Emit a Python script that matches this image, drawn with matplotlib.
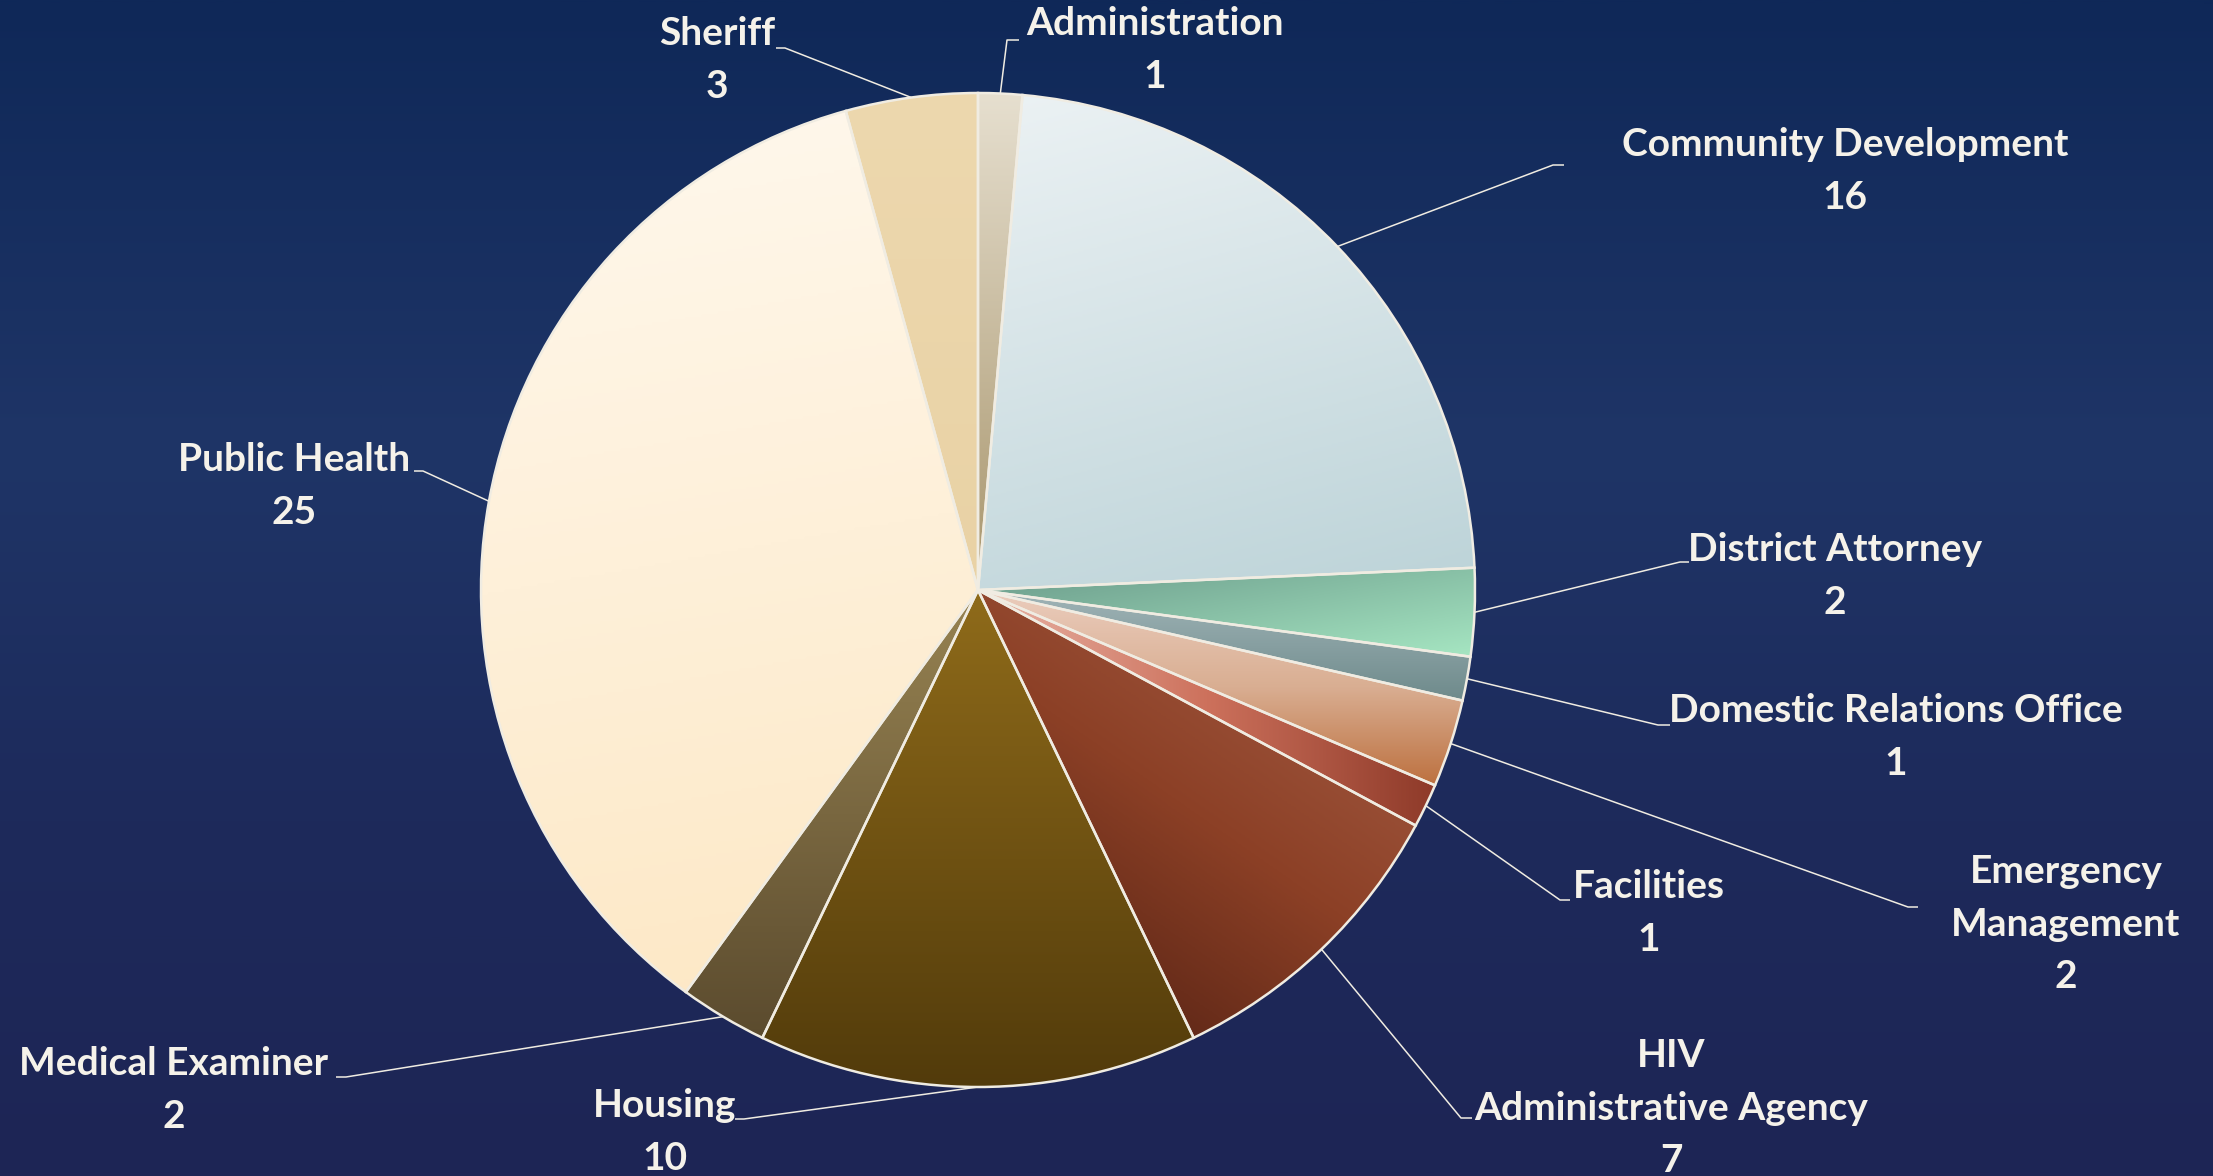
import numpy as np
import matplotlib
matplotlib.use('Agg')
import matplotlib.pyplot as plt
from matplotlib.colors import LinearSegmentedColormap

# data
departments = ['Administration', 'Community Development', 'District Attorney',
               'Domestic Relations Office', 'Emergency Management', 'Facilities',
               'HIV Administrative Agency', 'Housing', 'Medical Examiner',
               'Public Health', 'Sheriff']
counts = [1, 16, 2, 1, 2, 1, 7, 10, 2, 25, 3]
label_names = ['Administration', 'Community Development', 'District Attorney',
               'Domestic Relations Office', 'Emergency\nManagement', 'Facilities',
               'HIV\nAdministrative Agency', 'Housing', 'Medical Examiner',
               'Public Health', 'Sheriff']

# gradient fills: colour stops + direction (deg, screen coords, 90 = top->bottom)
fills = [
    (['#e6dfcf', '#a8956c'], 90),
    (['#ecf2f4', '#bcd3d8'], 75),
    (['#6a9a8a', '#a6e6c2'], 80),
    (['#a0b4b7', '#6e8a8b'], 90),
    (['#ebcdbd', '#d9ae92', '#bd7140'], 90),
    (['#e8b4a6', '#cd715c', '#8e3a29'], 0),
    (['#aa634c', '#8c4026', '#4a1c10'], 125),
    (['#8f6b1a', '#523b0b'], 90),
    (['#978352', '#5b4b2e'], 90),
    (['#fff8ed', '#fde8c5'], 80),
    (['#edd8ae', '#e9d2a5'], 90),
]

# layout (pixels, y from top)
W, H = 2213, 1176
cx, cy, R = 978, 590, 497
label_pos = [(1155, 50), (1845, 171), (1835, 576), (1896, 737), (2066, 924),
             (1649, 913), (1671, 1108), (665, 1132), (174, 1090), (294, 486),
             (717, 60)]
elbows = [((1007, 40), (1019, 40)), ((1553, 165), (1564, 165)),
          ((1680, 562), (1689, 562)), ((1658, 725), (1670, 725)),
          ((1908, 907), (1918, 907)), ((1560, 900), (1570, 900)),
          ((1461, 1118), (1472, 1118)), ((744, 1119), (735, 1119)),
          ((346, 1077), (336, 1077)), ((423, 471), (414, 471)),
          ((785, 48), (776, 48))]

line_col = '#f0ece2'
text_col = '#f5f2ea'

fig = plt.figure(figsize=(W / 100, H / 100), dpi=100)
ax = fig.add_axes([0, 0, 1, 1])
ax.axis('off')

# background
bg = LinearSegmentedColormap.from_list('bg', [(0, '#0f2858'), (0.38, '#1f3567'),
                                              (0.7, '#1d2a5b'), (1, '#1e2555')])
grad = np.linspace(0, 1, 400).reshape(-1, 1)
ax.imshow(bg(grad), extent=(0, W, 0, H), origin='upper', aspect='auto', zorder=0)

wedges, _ = ax.pie(counts, startangle=90, counterclock=False,
                   center=(cx, H - cy), radius=R,
                   wedgeprops=dict(edgecolor=line_col, linewidth=1.8))

for w, (stops, ang) in zip(wedges, fills):
    th = np.radians(np.linspace(w.theta1, w.theta2, 60))
    px = np.concatenate([[cx], cx + R * np.cos(th)])
    py = np.concatenate([[H - cy], H - cy + R * np.sin(th)])
    x0, x1, y0, y1 = px.min(), px.max(), py.min(), py.max()
    dx, dy = np.cos(np.radians(ang)), -np.sin(np.radians(ang))
    X, Y = np.meshgrid(np.linspace(x0, x1, 300), np.linspace(y0, y1, 300))
    P = X * dx + Y * dy
    t = (P - P.min()) / (P.max() - P.min() + 1e-9)
    cmap = LinearSegmentedColormap.from_list('f', stops)
    im = ax.imshow(cmap(t), extent=(x0, x1, y0, y1), origin='lower',
                   interpolation='bilinear', zorder=2)
    im.set_clip_path(w)
    w.set_facecolor('none')
    w.set_zorder(3)

# labels and leader lines
total = sum(counts)
cum = 0
for name, n, (lx, ly), (e1, e2) in zip(label_names, counts, label_pos, elbows):
    mid = (cum + n / 2) / total * 2 * np.pi
    cum += n
    sx, sy = cx + R * np.sin(mid), cy - R * np.cos(mid)
    ax.plot([sx, e1[0], e2[0]], [H - sy, H - e1[1], H - e2[1]],
            color=line_col, lw=1.1, zorder=4, solid_capstyle='butt')
    ax.text(lx, H - ly, f'{name}\n{n}', ha='center', va='center',
            color=text_col, fontsize=28, fontweight='bold', family='Lato',
            linespacing=1.6, zorder=5)

ax.set_xlim(0, W)
ax.set_ylim(0, H)
ax.set_aspect('auto')
fig.savefig('out.png', dpi=100)
